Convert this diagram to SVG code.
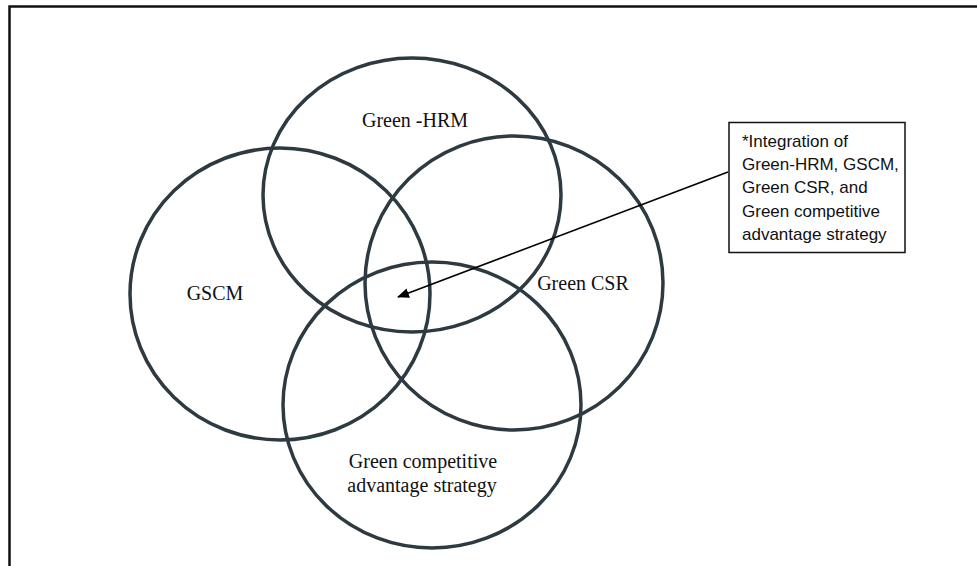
<svg xmlns="http://www.w3.org/2000/svg" width="977" height="566" viewBox="0 0 977 566">
  <style>
    .ring { fill: none; stroke: #2d3a42; stroke-width: 3.5; }
    .lbl { font-family: "Liberation Serif", "Times New Roman", serif; font-size: 20px; fill: #111; }
    .note { font-family: "Liberation Sans", Arial, sans-serif; font-size: 17px; fill: #111; }
    .frame { fill: #fff; stroke: #111; stroke-width: 2.5; }
  </style>
  <defs>
    <marker id="head" viewBox="0 0 12 10" refX="11" refY="5" markerWidth="12" markerHeight="10" markerUnits="userSpaceOnUse" orient="auto">
      <path d="M0,0 L12,5 L0,10 z" fill="#000"/>
    </marker>
  </defs>

  <rect x="0" y="0" width="977" height="566" fill="#fff"/>
  <rect class="frame" x="9.5" y="6.5" width="990" height="600"/>

  <g id="green-hrm">
    <ellipse class="ring" cx="412" cy="195" rx="149" ry="137"/>
    <text class="lbl" x="415" y="127" text-anchor="middle">Green -HRM</text>
  </g>

  <g id="gscm">
    <ellipse class="ring" cx="280" cy="294" rx="150" ry="146"/>
    <text class="lbl" x="215" y="300" text-anchor="middle">GSCM</text>
  </g>

  <g id="green-csr">
    <ellipse class="ring" cx="514" cy="283" rx="149" ry="147"/>
    <text class="lbl" x="583" y="290" text-anchor="middle">Green CSR</text>
  </g>

  <g id="green-cas">
    <ellipse class="ring" cx="432" cy="405" rx="149" ry="143"/>
    <text class="lbl" x="423" y="468" text-anchor="middle">Green competitive</text>
    <text class="lbl" x="422" y="492" text-anchor="middle">advantage strategy</text>
  </g>

  <g id="integration-note">
    <rect x="729" y="122.5" width="176" height="130" fill="#fff" stroke="#111" stroke-width="1.5"/>
    <text class="note" x="742" y="147">*Integration of</text>
    <text class="note" x="742" y="170">Green-HRM, GSCM,</text>
    <text class="note" x="742" y="193">Green CSR, and</text>
    <text class="note" x="742" y="217">Green competitive</text>
    <text class="note" x="742" y="240">advantage strategy</text>
  </g>

  <g id="connectors">
    <line x1="728" y1="172" x2="398" y2="297" stroke="#000" stroke-width="1.6" marker-end="url(#head)"/>
  </g>
</svg>
